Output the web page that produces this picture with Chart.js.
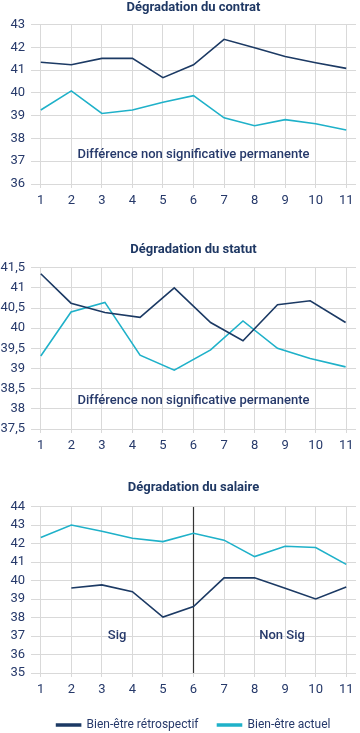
<!DOCTYPE html>
<html><head><meta charset="utf-8">
<script src="https://cdn.jsdelivr.net/npm/chart.js@4/dist/chart.umd.min.js"></script>
<style>
html,body{margin:0;padding:0;background:#fff;width:360px;height:733px;overflow:hidden;}
.box{position:absolute;left:0;width:360px;}
</style></head><body>
<div class="box" id="b1" style="top:0;height:214px"><canvas id="c1"></canvas></div>
<div class="box" id="b2" style="top:242px;height:217px"><canvas id="c2"></canvas></div>
<div class="box" id="b3" style="top:480px;height:261px"><canvas id="c3"></canvas></div>
<script>
// ---- data ----
const xTicks = [1,2,3,4,5,6,7,8,9,10,11];
const seriesNames = ['Bien-être rétrospectif', 'Bien-être actuel'];
const titles = ['Dégradation du contrat', 'Dégradation du statut', 'Dégradation du salaire'];

const contratX = [1,2,3,4,5,6,7,8,9,10,11];
const contratRetro  = [41.35, 41.24, 41.52, 41.52, 40.67, 41.24, 42.36, 41.99, 41.60, 41.33, 41.08];
const contratActuel = [39.25, 40.09, 39.10, 39.25, 39.59, 39.88, 38.91, 38.56, 38.83, 38.65, 38.37];

const statutX = [1, 1.99, 3.1, 4.25, 5.37, 6.56, 7.62, 8.75, 9.82, 10.98];
const statutRetro  = [41.35, 40.62, 40.39, 40.27, 41.00, 40.14, 39.69, 40.58, 40.68, 40.14];
const statutActuel = [39.31, 40.40, 40.64, 39.33, 38.96, 39.46, 40.18, 39.50, 39.25, 39.04];

const salaireX = [1,2,3,4,5,6,7,8,9,10,11];
const salaireRetro  = [null, 39.60, 39.77, 39.40, 38.03, 38.60, 40.15, 40.15, 39.59, 39.01, 39.65];
const salaireActuel = [42.33, 43.01, 42.67, 42.29, 42.11, 42.56, 42.19, 41.30, 41.86, 41.79, 40.88];

const yContrat = [36, 43, 1];
const yStatut = [37.5, 41.5, 0.5];
const ySalaire = [35, 44, 1];

const notes1 = [{text:'Différence non significative permanente', x:6, y:37.27}];
const notes2 = [{text:'Différence non significative permanente', x:6, y:38.2}];
const notes3 = [{text:'Sig', x:3.5, y:37}, {text:'Non Sig', x:8.9, y:37}];
const splitX = 6;

// ---- styles ----
const DARK = '#1c3a64';
const CYAN = '#1fb1c9';
const TXT = '#26396a';
const GRID = '#d9d9d9';
const FONT = 'Roboto, "DejaVu Sans", sans-serif';

function pts(xs, ys){ const out=[]; xs.forEach((x,i)=>{ if(ys[i]!==null) out.push({x:x,y:ys[i]}); }); return out; }

const notesPlugin = {
  id:'notes',
  afterDatasetsDraw(chart, args, opts){
    const ctx = chart.ctx; const xs = chart.scales.x, ys = chart.scales.y;
    ctx.save();
    ctx.fillStyle = TXT; ctx.font = '500 13px ' + FONT;
    ctx.textAlign='center'; ctx.textBaseline='middle';
    (opts.items||[]).forEach(n=>{ ctx.fillText(n.text, xs.getPixelForValue(n.x), ys.getPixelForValue(n.y)); });
    ctx.restore();
  }
};

function makeChart(id, title, datasets, yr, notes, titlePad, legend, comma, xh){
  return new Chart(document.getElementById(id), {
    type:'line',
    data:{datasets:datasets},
    plugins:[notesPlugin],
    options:{
      responsive:true, maintainAspectRatio:false, animation:false,
      layout:{padding:{left:0,right:4,top:0,bottom:0}},
      elements:{point:{radius:0}, line:{tension:0}},
      plugins:{
        title:{display:true, text:title, fullSize:false, color:'#1f3864', font:{family:FONT, size:13, weight:'bold'}, padding:{top:0,bottom:titlePad}},
        legend: legend ? {display:true, position:'bottom', fullSize:false,
          labels:{boxWidth:24, boxHeight:2, padding:19, color:TXT, font:{family:FONT,size:12},
            filter:(it)=> it.datasetIndex<2}} : {display:false},
        tooltip:{enabled:false},
        notes:{items:notes}
      },
      scales:{
        x:{type:'linear', min:0.68, max:11.32,
          afterBuildTicks:(ax)=>{ ax.ticks = xTicks.map(v=>({value:v})); },
          afterFit:(ax)=>{ ax.height = xh; },
          grid:{color:GRID, lineWidth:1, drawTicks:true, tickLength:4},
          border:{display:false},
          ticks:{color:TXT, font:{family:FONT,size:13}, padding:5, maxRotation:0, autoSkip:false, callback:(v)=>String(v)}
        },
        y:{min:yr[0], max:yr[1],
          afterFit:(ax)=>{ ax.width = 31; },
          grid:{color:GRID, lineWidth:1, drawTicks:false},
          border:{display:false},
          ticks:{stepSize:yr[2], autoSkip:false, color:TXT, font:{family:FONT,size:13}, padding:6,
            callback:(v)=> comma ? String(v).replace('.',',') : String(v)}
        }
      }
    }
  });
}

function ds(label, data, color){ return {label:label, data:data, borderColor:color, backgroundColor:color, borderWidth:1.6, fill:false}; }

makeChart('c1', titles[0], [ds(seriesNames[0], pts(contratX, contratRetro), DARK), ds(seriesNames[1], pts(contratX, contratActuel), CYAN)], yContrat, notes1, 9.1, false, false, 30);
makeChart('c2', titles[1], [ds(seriesNames[0], pts(statutX, statutRetro), DARK), ds(seriesNames[1], pts(statutX, statutActuel), CYAN)], yStatut, notes2, 10.1, false, true, 30);
makeChart('c3', titles[2], [ds(seriesNames[0], pts(salaireX, salaireRetro), DARK), ds(seriesNames[1], pts(salaireX, salaireActuel), CYAN),
  {label:'split', data:[{x:splitX,y:ySalaire[0]},{x:splitX,y:ySalaire[1]}], borderColor:'#333333', borderWidth:1.2, fill:false}],
  ySalaire, notes3, 11.1, true, false, 27);
</script>
</body></html>
